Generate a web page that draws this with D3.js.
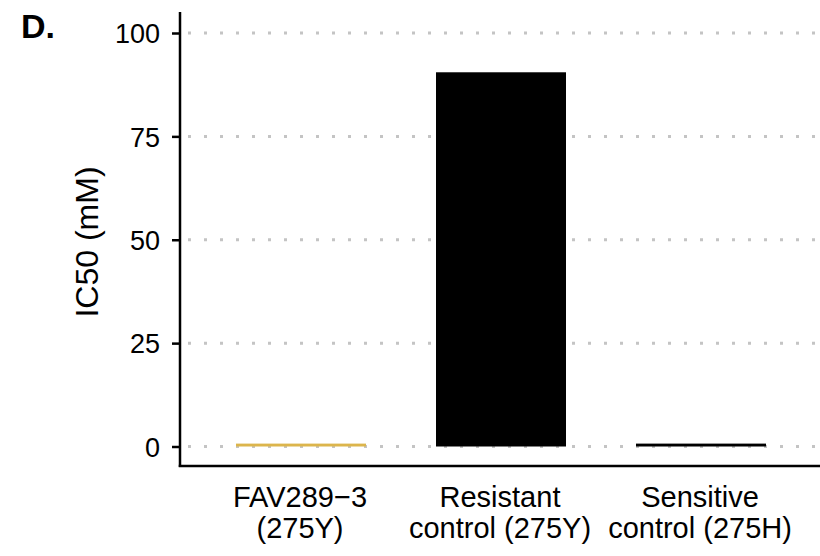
<!DOCTYPE html>
<html><head><meta charset="utf-8">
<script src="https://cdn.jsdelivr.net/npm/d3@7"></script>
<style>body{margin:0;background:#fff}svg{display:block}text{font-family:"Liberation Sans",Arial,sans-serif}</style>
</head><body><svg id="c" width="820" height="556"></svg>
<script>
const categories = ["FAV289\u22123\n(275Y)", "Resistant\ncontrol (275Y)", "Sensitive\ncontrol (275H)"];
const values = [0.7, 90.5, 0.7];
const colors = ["#dcb54c", "#000000", "#000000"];
const yTicks = [0, 25, 50, 75, 100];

const svg = d3.select("#c");
const left = 180, right = 820, y0px = 446.5, y100px = 33;
const y = d3.scaleLinear().domain([0, 100]).range([y0px, y100px]);
const xc = d3.scalePoint().domain(categories).range([300, 700]);
const bw = 130;

// grid
svg.append("g").selectAll("line").data(yTicks).join("line")
  .attr("x1", left).attr("x2", right).attr("y1", d => y(d)).attr("y2", d => y(d))
  .attr("stroke", "#c4c4c4").attr("stroke-width", 3).attr("stroke-dasharray", "3,13").attr("stroke-dashoffset", -8);

// bars
svg.append("g").selectAll("rect").data(values).join("rect")
  .attr("x", (d,i) => xc(categories[i]) - bw/2 + 1)
  .attr("width", bw)
  .attr("y", d => y(d))
  .attr("height", d => y0px - y(d))
  .attr("fill", (d,i) => colors[i]);

// y axis
const ya = svg.append("g").attr("transform", `translate(${left},0)`)
  .call(d3.axisLeft(y).tickValues(yTicks).tickSize(8).tickPadding(12));
ya.select(".domain").remove();
ya.selectAll(".tick line").attr("stroke", "#000").attr("stroke-width", 2.5);
ya.selectAll(".tick text").attr("font-size", 27).attr("fill", "#000").attr("dy", "0.36em");
svg.append("line").attr("x1", left).attr("x2", left).attr("y1", 12).attr("y2", 467).attr("stroke", "#000").attr("stroke-width", 2.5);
svg.append("line").attr("x1", left - 1.25).attr("x2", right).attr("y1", 466).attr("y2", 466).attr("stroke", "#000").attr("stroke-width", 2.5);

// x labels
const xl = svg.append("g").selectAll("text").data(categories).join("text")
  .attr("x", d => xc(d)).attr("text-anchor", "middle").attr("font-size", 29).attr("fill", "#000");
xl.each(function(d){
  const lines = d.split("\n");
  d3.select(this).selectAll("tspan").data(lines).join("tspan")
    .attr("x", xc(d)).attr("y", (l,i) => 507 + i*31).text(l => l);
});

// y label
svg.append("text").attr("transform", "translate(98,242) rotate(-90)").attr("text-anchor", "middle")
  .attr("font-size", 32).attr("fill", "#000").text("IC50 (mM)");

// panel label
svg.append("text").attr("x", 21).attr("y", 38).attr("font-size", 34).attr("font-weight", "bold").attr("fill", "#000").text("D.");
</script></body></html>
